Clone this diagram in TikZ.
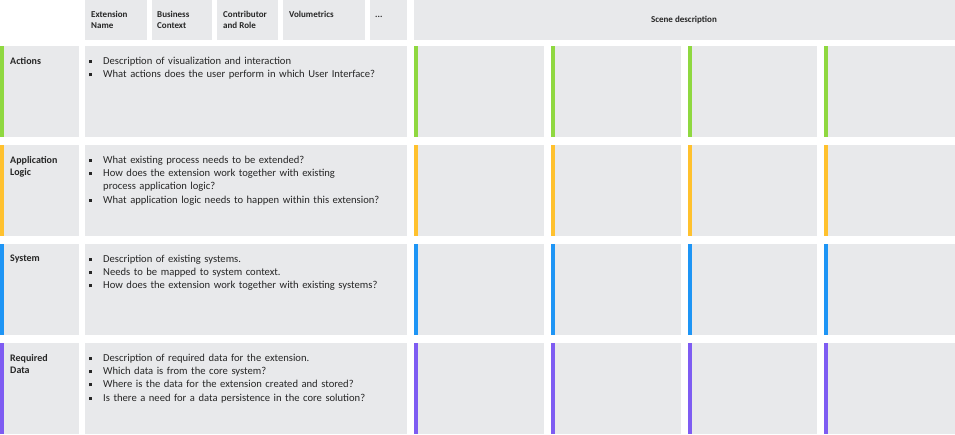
\documentclass[tikz,border=0pt]{standalone}
\usepackage{fontspec}
\setmainfont{Carlito}
\definecolor{cellgray}{HTML}{E8E9EB}
\definecolor{cgreen}{HTML}{8FD840}
\definecolor{corange}{HTML}{FFC12E}
\definecolor{cblue}{HTML}{1E95F5}
\definecolor{cpurple}{HTML}{7E5CF2}
\definecolor{txt}{HTML}{262626}
\begin{document}
\begin{tikzpicture}[x=1pt,y=-1pt,
  cell/.style={fill=cellgray,draw=none},
  hdr/.style={anchor=north west,font=\fontsize{9}{11}\selectfont\bfseries,text=txt,align=left,inner sep=0},
  rowlbl/.style={anchor=north west,font=\fontsize{10}{12}\selectfont\bfseries,text=txt,align=left,inner sep=0},
  body/.style={anchor=north west,font=\fontsize{10.6}{13.2}\selectfont,text=txt,align=left,inner sep=0,text width=310pt}]
\useasboundingbox (0,0) rectangle (955,435);
% header
\fill[cell] (85,0) rectangle (147,40); \node[hdr] (h1) at (91,11) {Extension\\Name};
\fill[cell] (152,0) rectangle (212,40); \node[hdr] (h2) at (157,11) {Business\\Context};
\fill[cell] (217,0) rectangle (278,40); \node[hdr] (h3) at (223,11) {Contributor\\and Role};
\fill[cell] (283,0) rectangle (365,40); \node[hdr] (h4) at (289,11) {Volumetrics};
\fill[cell] (370,0) rectangle (407,40); \node[hdr] (h5) at (375,16) {...};
\fill[cell] (414,0) rectangle (955,40); \node[hdr,anchor=center] (h6) at (684,20) {Scene description};
% rows
\newcommand{\myrow}[5]{%
  \fill[cell] (0,#1) rectangle (79,#1+91);
  \fill[#2] (0,#1) rectangle (4,#1+91);
  \node[rowlbl] (#5l) at (10,#1+11) {#3};
  \fill[cell] (85,#1) rectangle (407,#1+91);
  \node[body] (#5b) at (89,#1+11) {#4};
  \foreach \xa/\xb in {414/544,551/681,688/817,824/955}{
    \fill[cell] (\xa,#1) rectangle (\xb,#1+91);
    \fill[#2] (\xa,#1) rectangle (\xa+4,#1+91);}
}
\newcommand{\bl}{\makebox[14pt][l]{\rule[1.5pt]{3pt}{3pt}}}
\myrow{46}{cgreen}{Actions}{\bl Description of visualization and interaction\\\bl What actions does the user perform in which User Interface?}{a}
\myrow{145}{corange}{Application\\Logic}{\bl What existing process needs to be extended?\\\bl How does the extension work together with existing\\\hspace*{14pt}process application logic?\\\bl What application logic needs to happen within this extension?}{b}
\myrow{244}{cblue}{System}{\bl Description of existing systems.\\\bl Needs to be mapped to system context.\\\bl How does the extension work together with existing systems?}{c}
\myrow{343}{cpurple}{Required\\Data}{\bl Description of required data for the extension.\\\bl Which data is from the core system?\\\bl Where is the data for the extension created and stored?\\\bl Is there a need for a data persistence in the core solution?}{d}
\end{tikzpicture}
\end{document}
